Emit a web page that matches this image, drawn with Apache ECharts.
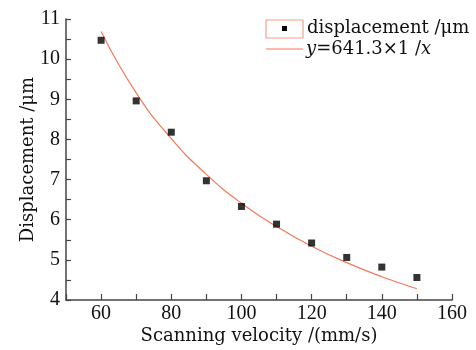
<!DOCTYPE html>
<html><head><meta charset="utf-8">
<script src="https://cdn.jsdelivr.net/npm/echarts@6/dist/echarts.min.js"></script>
<style>html,body{margin:0;padding:0;background:#fff}#c{width:476px;height:350px}</style>
</head><body><div id="c"></div>
<script>
var velocities = [60, 70, 80, 90, 100, 110, 120, 130, 140, 150];
var displacement = [10.47, 8.96, 8.18, 6.97, 6.33, 5.89, 5.42, 5.06, 4.82, 4.56];
var fitX = [60, 70, 80, 90, 100, 110, 120, 130, 140, 150];
var fitY = [10.69, 9.16, 8.02, 7.13, 6.41, 5.83, 5.34, 4.93, 4.58, 4.28];
var xTicks = [60, 80, 100, 120, 140, 160];
var yTicks = [4, 5, 6, 7, 8, 9, 10, 11];
var xName = 'Scanning velocity /(mm/s)';
var yName = 'Displacement /\u03bcm';
var legendName1 = 'displacement /\u03bcm';

var FONT = 'DejaVu Serif';
var NUMFONT = 'Liberation Serif';
var lineColor = '#f47a5a';
var chart = echarts.init(document.getElementById('c'));
chart.setOption({
  animation: false,
  grid: {left: 66, right: 24, top: 19, bottom: 47, containLabel: false},
  xAxis: {
    type: 'value', min: 50, max: 160, interval: 10,
    name: xName, nameLocation: 'middle', nameGap: 27, nameMoveOverlap: false,
    nameTextStyle: {fontFamily: FONT, fontSize: 18, color: '#111'},
    axisLine: {lineStyle: {color: '#444', width: 1.5}},
    axisTick: {inside: true, length: 6, lineStyle: {color: '#444', width: 1.2}},
    axisLabel: {fontFamily: NUMFONT, fontSize: 20, color: '#111', margin: 4,
      formatter: function(v){ return xTicks.indexOf(v) >= 0 ? String(v) : ''; }},
    splitLine: {show: false}
  },
  yAxis: {
    type: 'value', min: 4, max: 11, interval: 0.5,
    name: yName, nameLocation: 'middle', nameGap: 29, nameMoveOverlap: false,
    nameTextStyle: {fontFamily: FONT, fontSize: 18, color: '#111'},
    axisLine: {show: true, lineStyle: {color: '#444', width: 1.5}},
    axisTick: {show: true, inside: true, length: 5, lineStyle: {color: '#444', width: 1.2}},
    axisLabel: {fontFamily: NUMFONT, fontSize: 20, color: '#111', margin: 6,
      formatter: function(v){ return yTicks.indexOf(v) >= 0 ? String(v) : ''; }},
    splitLine: {show: false}
  },
  series: [
    {type: 'line', data: fitX.map(function(x, i){ return [x, fitY[i]]; }),
     smooth: true, showSymbol: false, lineStyle: {color: lineColor, width: 1.2}, z: 2},
    {type: 'scatter', data: velocities.map(function(x, i){ return [x, displacement[i]]; }),
     symbol: 'rect', symbolSize: 7, itemStyle: {color: '#000'}, z: 3}
  ],
  graphic: [
    {type: 'rect', shape: {x: 266, y: 20, width: 37, height: 18}, style: {fill: 'none', stroke: '#f7a08a', lineWidth: 1.2}},
    {type: 'rect', shape: {x: 282, y: 26, width: 5, height: 5}, style: {fill: '#000'}},
    {type: 'text', x: 307, y: 28, style: {text: legendName1, font: '18px "' + FONT + '"', fill: '#111', verticalAlign: 'middle'}},
    {type: 'line', shape: {x1: 266, y1: 49, x2: 303, y2: 49}, style: {stroke: lineColor, lineWidth: 1}},
    {type: 'text', x: 306, y: 49, style: {
      text: '{i|y}=641.3\u00d71 /{i|x}',
      font: '18px "' + FONT + '"', fill: '#111', verticalAlign: 'middle',
      rich: {i: {fontStyle: 'italic', fontFamily: FONT, fontSize: 18}}}}
  ]
});
</script></body></html>
